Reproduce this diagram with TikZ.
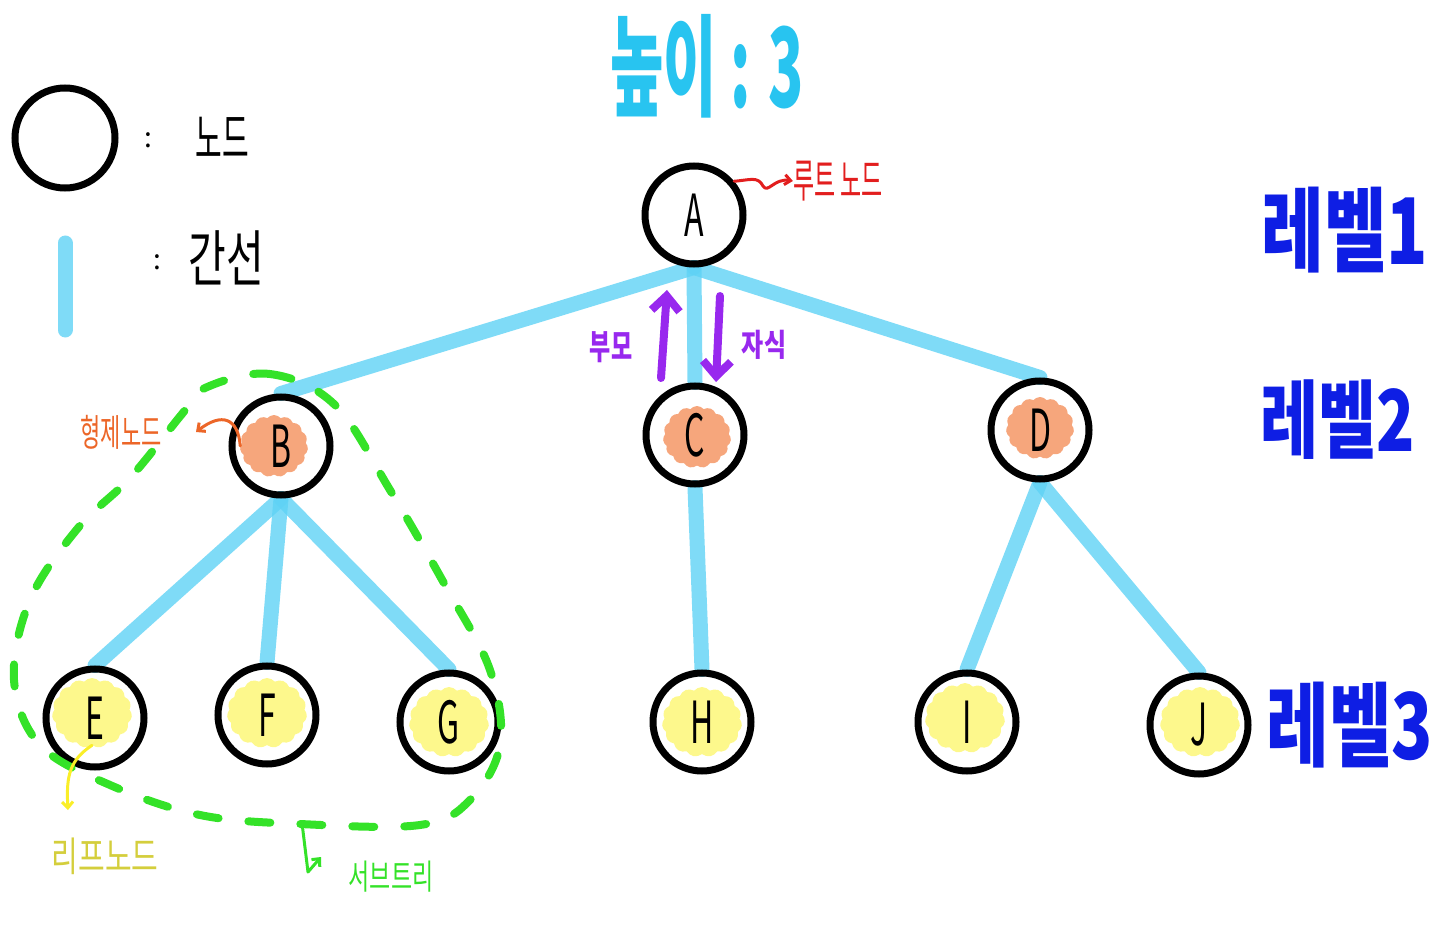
\documentclass[tikz,border=0pt]{standalone}
\usepackage{fontspec}
\usepackage{graphicx}
\setmainfont{Noto Sans CJK KR}
\usetikzlibrary{shapes.symbols,arrows.meta}
\pgfdeclarelayer{bg}
\pgfsetlayers{bg,main}

\definecolor{edgeblue}{RGB}{95,210,245}
\definecolor{heightcyan}{RGB}{40,196,240}
\definecolor{levelblue}{RGB}{14,30,228}
\definecolor{rootred}{RGB}{226,30,30}
\definecolor{relpurple}{RGB}{152,40,238}
\definecolor{sibling}{RGB}{236,102,40}
\definecolor{innerorange}{RGB}{246,166,124}
\definecolor{leafyellow}{RGB}{253,248,140}
\definecolor{leaftext}{RGB}{212,206,60}
\definecolor{leafarrow}{RGB}{250,238,40}
\definecolor{subgreen}{RGB}{52,226,40}

% size, x-scale, y-scale, text
\newcommand\hw[4]{\fontsize{#1}{#1}\selectfont\scalebox{#2}[#3]{#4}}

\begin{document}
\begin{tikzpicture}[x=1pt,y=-1pt,
  treenode/.style={circle,draw=black,line width=7pt,minimum size=98pt,inner sep=0pt},
  blob/.style={cloud,cloud puffs=15,cloud puff arc=100,cloud ignores aspect,draw=none,inner sep=0pt,fill=#1},
  innerblob/.style={blob=innerorange,minimum width=68pt,minimum height=62pt},
  leafblob/.style={blob=leafyellow,minimum width=80pt,minimum height=70pt},
  edge/.style={draw=edgeblue,draw opacity=0.8,line width=15pt,line cap=round},
  txt/.style={inner sep=0pt},
  pen/.style={line width=3pt,line cap=round,line join=round},
]
\useasboundingbox (0,0) rectangle (1436,928);

% ---- legend ----
\node[treenode,minimum size=100pt] (legnode) at (65,138) {};
\node[txt] (legcolon1) at (148,140) {\hw{28}{1}{1}{:}};
\node[txt] (legnodetxt) at (222,138) {\hw{29}{1}{1.9}{노드}};
\coordinate (legtop) at (65,243);
\coordinate (legbot) at (65,330);
\draw[edge] (legtop) -- (legbot);
\node[txt] (legcolon2) at (157,262) {\hw{28}{1}{1}{:}};
\node[txt] (legedgetxt) at (226,258) {\hw{41}{1}{1.5}{간선}};

% ---- title ----
\node[txt,text=heightcyan] (height) at (707,66) {\hw{58}{1}{1.9}{\bfseries 높이 : 3}};

% ---- fills inside the nodes ----
\node[innerblob] (Bf) at (274,446) {};
\node[innerblob] (Cf) at (697,437) {};
\node[innerblob] (Df) at (1040,428) {};
\node[leafblob] (Ef) at (92,713) {};
\node[leafblob] (Ff) at (267,713) {};
\node[leafblob] (Gf) at (449,722) {};
\node[leafblob] (Hf) at (702,722) {};
\node[leafblob] (If) at (965,718) {};
\node[leafblob] (Jf) at (1200,722) {};

% ---- tree nodes ----
\node[treenode] (A) at (694,215) {\hw{40}{0.8}{1.45}{A}};
\node[treenode] (B) at (281,446) {\hw{40}{0.8}{1.45}{B}};
\node[treenode] (C) at (695,435) {\hw{40}{0.8}{1.45}{C}};
\node[treenode] (D) at (1040,430) {\hw{40}{0.8}{1.45}{D}};
\node[treenode] (E) at (95,718) {\hw{40}{0.8}{1.45}{E}};
\node[treenode] (F) at (267,715) {\hw{40}{0.8}{1.45}{F}};
\node[treenode] (G) at (449,722) {\hw{40}{0.8}{1.45}{G}};
\node[treenode] (H) at (702,722) {\hw{40}{0.8}{1.45}{H}};
\node[treenode] (I) at (967,722) {\hw{40}{0.8}{1.45}{I}};
\node[treenode] (J) at (1199,725) {\hw{40}{0.8}{1.45}{J}};

% ---- edges ----
\begin{pgfonlayer}{bg}
\draw[edge] (A.south) -- (B.north);
\draw[edge] (A.south) -- (C.north);
\draw[edge] (A.south) -- (D.north);
\draw[edge] (B.south) -- (E.north);
\draw[edge] (B.south) -- (F.north);
\draw[edge] (B.south) -- (G.north);
\draw[edge] (C.south) -- (H.north);
\draw[edge] (D.south) -- (I.north);
\draw[edge] (D.south) -- (J.north);
\end{pgfonlayer}

% ---- level labels ----
\node[txt,text=levelblue] (lv1) at (1345,230) {\hw{68}{1}{1.35}{\bfseries 레벨1}};
\node[txt,text=levelblue] (lv2) at (1338,420) {\hw{63}{1}{1.35}{\bfseries 레벨2}};
\node[txt,text=levelblue] (lv3) at (1350,725) {\hw{68}{1}{1.35}{\bfseries 레벨3}};

% ---- root label ----
\node[txt,text=rootred] (roottxt) at (838,181) {\hw{23}{1}{2}{루트 노드}};
\draw[pen,rootred,-{Straight Barb[length=6pt,width=10pt]}]
  (A.40) .. controls (750,180) and (758,176) .. (763,186)
         .. controls (768,194) and (774,178) .. (roottxt.west);

% ---- parent / child ----
\coordinate (upfrom) at (661,378);
\coordinate (upto) at (667,290);
\coordinate (downfrom) at (720,296);
\coordinate (downto) at (716,382);
\draw[relpurple,line width=8pt,line cap=round,-{Straight Barb[length=15pt,width=28pt]}] (upfrom) -- (upto);
\draw[relpurple,line width=8pt,line cap=round,-{Straight Barb[length=15pt,width=28pt]}] (downfrom) -- (downto);
\node[txt,text=relpurple] (parenttxt) at (611,347) {\hw{23}{1}{1.5}{\bfseries 부모}};
\node[txt,text=relpurple] (childtxt) at (764,345) {\hw{24}{1}{1.3}{\bfseries 자식}};

% ---- sibling label ----
\node[txt,text=sibling] (sibtxt) at (121,432) {\hw{22}{1}{1.7}{형제노드}};
\draw[pen,sibling,-{Straight Barb[length=6pt,width=11pt]}]
  (Bf.west) .. controls (238,418) and (222,412) .. (196,432);

% ---- subtree outline ----
\draw[subgreen,line width=8pt,line cap=round,dash pattern=on 22pt off 30pt]
  plot[smooth cycle,tension=0.6] coordinates {
    (205,388) (270,374) (335,405) (390,490) (445,585) (490,670)
    (500,745) (470,800) (420,825) (300,824) (200,815) (110,785)
    (40,745) (14,680) (30,600) (78,528) (130,478) (182,414)};

% ---- leaf label ----
\node[txt,text=leaftext] (leaftxt) at (105,856) {\hw{29}{1}{1.4}{리프노드}};
\draw[pen,leafarrow,-{Straight Barb[length=6pt,width=11pt]}]
  (Ef.south) .. controls (70,760) and (66,775) .. (68,810);

% ---- subtree label ----
\node[txt,text=subgreen] (subtxt) at (391,877) {\hw{23}{1}{1.5}{서브트리}};
\coordinate (subfrom) at (302,823);
\coordinate (subbend) at (308,872);
\draw[pen,subgreen,-{Straight Barb[length=6pt,width=11pt]}]
  (subfrom) -- (subbend) -- (321,857);
\end{tikzpicture}
\end{document}
